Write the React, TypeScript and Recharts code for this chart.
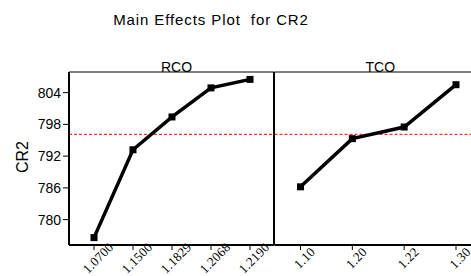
import React from "react";
import { LineChart, Line, XAxis, YAxis, ReferenceLine, Label } from "recharts";

// factor levels and mean CR2 per level
const rcoLevels = ["1.0700", "1.1500", "1.1829", "1.2068", "1.2190"];
const rcoMeans = [776.6, 793.2, 799.4, 804.9, 806.5];
const tcoLevels = ["1.10", "1.20", "1.22", "1.30"];
const tcoMeans = [786.2, 795.3, 797.5, 805.5];
const yTicks = [780, 786, 792, 798, 804];
const yDomain = [775.2, 807.9];

const rcoData = rcoLevels.map((level, i) => ({ level, cr2: rcoMeans[i] }));
const tcoData = tcoLevels.map((level, i) => ({ level, cr2: tcoMeans[i] }));
const grandMean = rcoMeans.reduce((a, b) => a + b, 0) / rcoMeans.length;

const sans = "'Liberation Sans', Arial, sans-serif";
const serif = "'Liberation Serif', 'Times New Roman', serif";

const SlantTick = (props: any) => {
  const { x, y, payload } = props;
  const cx = x + 4;
  const cy = y + 6;
  return (
    <text
      x={cx}
      y={cy}
      transform={`rotate(-45 ${cx} ${cy})`}
      textAnchor="middle"
      dominantBaseline="central"
      fontFamily={serif}
      fontSize={13}
      letterSpacing={0.2}
      fill="#000"
    >
      {payload.value}
    </text>
  );
};

const SquareDot = (props: any) => {
  const { cx, cy, index } = props;
  return <rect key={index} x={cx - 3.5} y={cy - 3.5} width={7} height={7} fill="#000" />;
};

export default function App() {
  return (
    <div style={{ position: "fixed", left: 0, top: 0, width: 471, height: 276, overflow: "hidden", background: "#fff" }}>
      <div
        style={{
          position: "absolute",
          left: 0,
          top: 11,
          width: 422,
          textAlign: "center",
          fontFamily: sans,
          fontSize: 15,
          lineHeight: "17px",
          letterSpacing: 0.9,
          whiteSpace: "pre",
          color: "#000",
        }}
      >
        {"Main Effects Plot  for CR2"}
      </div>

      <div style={{ position: "absolute", left: 0, top: 0 }}>
        <LineChart width={275} height={276} data={rcoData} margin={{ top: 71, right: 0, bottom: 0, left: 0 }}>
          <XAxis
            dataKey="level"
            height={31}
            padding={{ left: 25, right: 24 }}
            tickSize={5}
            tickMargin={2}
            interval={0}
            axisLine={{ stroke: "#000", strokeWidth: 2 }}
            tickLine={{ stroke: "#000" }}
            tick={<SlantTick />}
          />
          <XAxis
            xAxisId="top"
            orientation="top"
            dataKey="level"
            height={1}
            tick={false}
            tickLine={false}
            axisLine={{ stroke: "#000" }}
            label={{ value: "RCO", position: "top", offset: -1, dx: 5, fill: "#000", fontSize: 14, fontFamily: sans }}
          />
          <YAxis
            type="number"
            domain={yDomain}
            ticks={yTicks}
            allowDataOverflow
            width={69}
            tickSize={6}
            tickMargin={2}
            axisLine={{ stroke: "#000", strokeWidth: 2 }}
            tickLine={{ stroke: "#000" }}
            tick={{ fill: "#000", fontSize: 14, fontFamily: sans }}
          >
            <Label
              content={() => (
                <text
                  x={22}
                  y={157}
                  transform="rotate(-90 22 157)"
                  textAnchor="middle"
                  dominantBaseline="central"
                  fontFamily={sans}
                  fontSize={16}
                  fill="#000"
                >
                  CR2
                </text>
              )}
            />
          </YAxis>
          <YAxis
            yAxisId="right"
            orientation="right"
            width={1}
            domain={yDomain}
            tick={false}
            tickLine={false}
            axisLine={{ stroke: "#000", strokeWidth: 2 }}
          />
          <ReferenceLine y={grandMean} stroke="#ff0000" strokeDasharray="3 2" />
          <Line
            dataKey="cr2"
            stroke="#000"
            strokeWidth={3.5}
            dot={<SquareDot />}
            activeDot={false}
            isAnimationActive={false}
          />
        </LineChart>
      </div>

      <div style={{ position: "absolute", left: 274, top: 0 }}>
        <LineChart width={208} height={276} data={tcoData} margin={{ top: 71, right: 0, bottom: 0, left: 0.5 }}>
          <XAxis
            dataKey="level"
            height={31}
            padding={{ left: 26, right: 26 }}
            tickSize={5}
            tickMargin={2}
            interval={0}
            axisLine={{ stroke: "#000", strokeWidth: 2 }}
            tickLine={{ stroke: "#000" }}
            tick={<SlantTick />}
          />
          <XAxis
            xAxisId="top"
            orientation="top"
            dataKey="level"
            height={1}
            tick={false}
            tickLine={false}
            axisLine={{ stroke: "#000" }}
            label={{ value: "TCO", position: "top", offset: -1, dx: 2, fill: "#000", fontSize: 14, fontFamily: sans }}
          />
          <YAxis type="number" domain={yDomain} allowDataOverflow hide />
          <ReferenceLine y={grandMean} stroke="#ff0000" strokeDasharray="3 2" />
          <Line
            dataKey="cr2"
            stroke="#000"
            strokeWidth={3.5}
            dot={<SquareDot />}
            activeDot={false}
            isAnimationActive={false}
          />
        </LineChart>
      </div>
    </div>
  );
}
